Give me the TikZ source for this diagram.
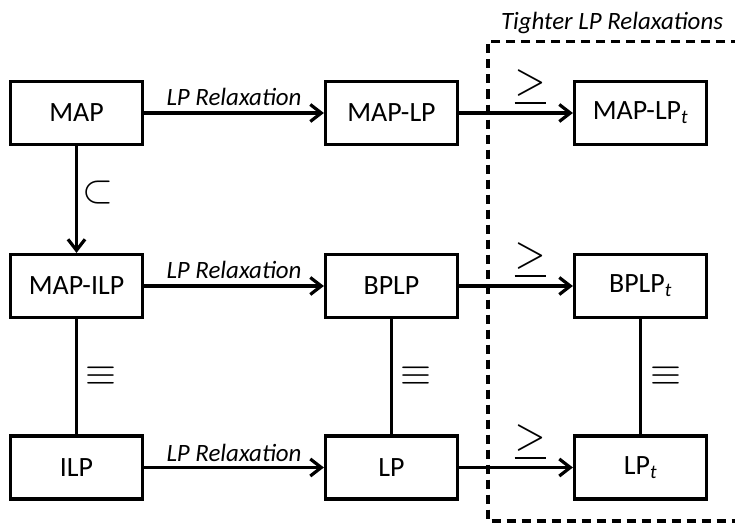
\documentclass[tikz,border=0pt]{standalone}
\usepackage{fontspec}
\setmainfont{Carlito}
\usetikzlibrary{arrows.meta}

\begin{document}
\begin{tikzpicture}[x=1bp,y=-1bp,
  box/.style={draw, line width=3.2bp, minimum width=132bp, minimum height=63bp,
    inner sep=0pt, font=\fontsize{28}{32}\selectfont},
  link/.style={line width=3.2bp},
  arr/.style={link, -{Straight Barb[length=11bp,width=17bp]}},
  rel/.style={font=\fontsize{25}{29}\selectfont\itshape, anchor=base, inner sep=0pt},
  sym/.style={font=\fontsize{10}{12}\selectfont, scale=4, inner sep=0pt},
  frame/.style={line width=3.2bp, dash pattern=on 9bp off 6bp}]
\useasboundingbox (0,0) rectangle (735,523);

% first column
\node[box] (map)  at (76.5,113) {MAP};
\node[box] (mapilp) at (76.5,286) {MAP-ILP};
\node[box] (ilp)  at (76.5,467.5) {ILP};
% second column
\node[box] (maplp) at (391.5,113) {MAP-LP};
\node[box] (bplp)  at (391.5,286) {BPLP};
\node[box] (lp)    at (391.5,467.5) {LP};
% third column
\node[box] (maplpt) at (640.5,113) {MAP-LP\textsubscript{\textit{t}}};
\node[box] (bplpt)  at (640.5,286) {BPLP\textsubscript{\textit{t}}};
\node[box] (lpt)    at (640.5,467.5) {LP\textsubscript{\textit{t}}};

% relaxations
\draw[arr] (map) -- (maplp);
\draw[arr] (mapilp) -- (bplp);
\draw[arr] (ilp) -- (lp);
\node[rel] (r1) at (234,106) {LP Relaxation};
\node[rel] (r2) at (234,279) {LP Relaxation};
\node[rel] (r3) at (234,461) {LP Relaxation};

% tighter relaxations
\draw[arr] (maplp) -- (maplpt);
\draw[arr] (bplp) -- (bplpt);
\draw[arr] (lp) -- (lpt);
\node[sym, yscale=1.15] (g1) at (530,88) {$\underline{>}$};
\node[sym, yscale=1.15] (g2) at (530,261) {$\underline{>}$};
\node[sym, yscale=1.15] (g3) at (530,443) {$\underline{>}$};

% vertical relations
\draw[arr] (map) -- (mapilp);
\node[sym] (sub) at (97.5,193) {$\subset$};
\draw[link] (mapilp) -- (ilp);
\draw[link] (bplp) -- (lp);
\draw[link] (bplpt) -- (lpt);
\node[sym] (e1) at (100.5,376) {$\equiv$};
\node[sym] (e2) at (416,376) {$\equiv$};
\node[sym] (e3) at (665.5,376) {$\equiv$};

% dashed region
\begin{scope}
\clip (0,0) rectangle (735,523);
\draw[frame] (740,41.5) -- (488,41.5) -- (488,521) -- (740,521);
\end{scope}
\node[rel] (title) at (612,30) {Tighter LP Relaxations};
\end{tikzpicture}
\end{document}
